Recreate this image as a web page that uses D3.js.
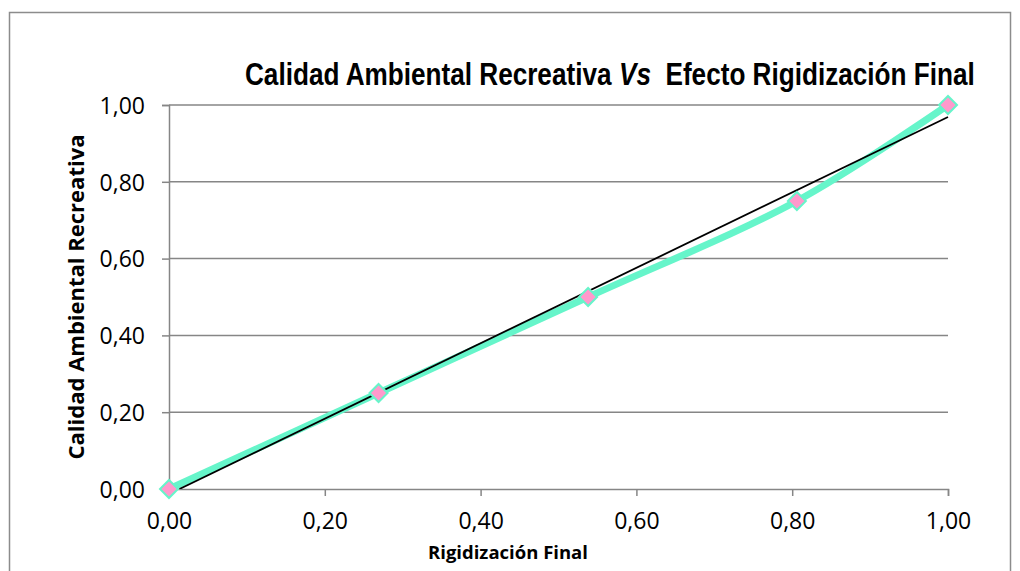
<!DOCTYPE html>
<html><head><meta charset="utf-8">
<script src="https://cdn.jsdelivr.net/npm/d3@7"></script>
<style>body{margin:0;background:#fff;} svg{display:block;}</style>
</head><body>
<script>
const titleParts = ["Calidad Ambiental Recreativa", "Vs", "Efecto Rigidización Final"];
const titleItalic = [false, true, false];
const xTitle = "Rigidización Final";
const yTitle = "Calidad Ambiental Recreativa";
const xValues = [0, 0.269, 0.538, 0.806, 1.0];
const yValues = [0, 0.25, 0.50, 0.75, 1.0];
const tickValues = [0, 0.2, 0.4, 0.6, 0.8, 1.0];

const W = 1020, H = 571;
const svg = d3.select("body").append("svg").attr("width", W).attr("height", H);
svg.append("rect").attr("x",9.5).attr("y",12.5).attr("width",1001).attr("height",600)
  .attr("fill","#fff").attr("stroke","#8c8c8c").attr("stroke-width",1.5);

const pL = 169, pR = 948, pT = 105, pB = 489;
const x = d3.scaleLinear().domain([0,1]).range([pL,pR]);
const y = d3.scaleLinear().domain([0,1]).range([pB,pT]);
const fmt = d => d3.format(".2f")(d).replace(".", ",");
const gray = "#868686";
const font = "'Open Sans', 'Noto Sans', sans-serif";

// gridlines
svg.append("g").selectAll("line").data(tickValues.filter(d=>d>0)).join("line")
  .attr("x1",pL).attr("x2",pR).attr("y1",d=>y(d)).attr("y2",d=>y(d))
  .attr("stroke",gray).attr("stroke-width",1.5);

// axes
const gx = svg.append("g").attr("transform",`translate(0,${pB})`)
  .call(d3.axisBottom(x).tickValues(tickValues).tickFormat(fmt).tickSize(7).tickPadding(15));
const gy = svg.append("g").attr("transform",`translate(${pL},0)`)
  .call(d3.axisLeft(y).tickValues(tickValues).tickFormat(fmt).tickSize(7).tickPadding(17));
[gx,gy].forEach(g=>{
  g.select(".domain").attr("stroke",gray).attr("stroke-width",1.5);
  g.selectAll(".tick line").attr("stroke",gray).attr("stroke-width",1.5);
  g.selectAll(".tick text").attr("font-family",font).attr("font-size",23).attr("fill","#000");
});
gx.selectAll(".tick text").attr("dy","0.8em");
gy.selectAll(".tick text").attr("dy","0.36em");

// clip
svg.append("clipPath").attr("id","clip").append("rect")
  .attr("x",pL).attr("y",pT-10).attr("width",pR-pL+10).attr("height",pB-pT+10);

const pts = xValues.map((v,i)=>[v,yValues[i]]);

// series line (smoothed)
svg.append("path").datum(pts)
  .attr("d", d3.line().x(d=>x(d[0])).y(d=>y(d[1])).curve(d3.curveCatmullRom.alpha(0.5)))
  .attr("fill","none").attr("stroke","#66F5CA").attr("stroke-width",7).attr("stroke-linecap","round");

// linear trendline
const mx = d3.mean(xValues), my = d3.mean(yValues);
const slope = d3.sum(xValues.map((v,i)=>(v-mx)*(yValues[i]-my))) / d3.sum(xValues.map(v=>(v-mx)*(v-mx)));
const intercept = my - slope*mx;
const xs0 = -intercept/slope;
svg.append("line").attr("clip-path","url(#clip)")
  .attr("x1",x(Math.max(0,xs0))).attr("y1",y(slope*Math.max(0,xs0)+intercept))
  .attr("x2",x(1)).attr("y2",y(slope+intercept))
  .attr("stroke","#000").attr("stroke-width",1.8);

// markers
svg.append("g").selectAll("path").data(pts).join("path")
  .attr("transform",d=>`translate(${x(d[0])},${y(d[1])})`)
  .attr("d","M0,-9L9,0L0,9L-9,0Z")
  .attr("fill","#FF99CC").attr("stroke","#66F5CA").attr("stroke-width",2);

// title: condensed by horizontal scaling of a group
const titleFont = "'Liberation Sans','Arial',sans-serif";
const fs = 31;
const gaps = [0.28*fs, 0.55*fs];
const tg = svg.append("g");
const pieces = tg.selectAll("text").data(titleParts).join("text")
  .attr("y",0).attr("font-family",titleFont).attr("font-weight","bold").attr("font-size",fs)
  .attr("font-style",(d,i)=>titleItalic[i]?"italic":"normal")
  .attr("fill","#000").text(d=>d);
let cx = 0;
pieces.each(function(d,i){
  d3.select(this).attr("x",cx);
  cx += this.getComputedTextLength() + (i<gaps.length ? gaps[i] : 0);
});
const sx = 730 / cx;
tg.attr("transform",`translate(245,85) scale(${sx},1)`);

// axis titles
svg.append("text").attr("x",508).attr("y",559).attr("text-anchor","middle")
  .attr("font-family",font).attr("font-weight","bold").attr("font-size",18.5).attr("fill","#000")
  .text(xTitle);
svg.append("text").attr("transform","translate(84,297) rotate(-90)").attr("text-anchor","middle")
  .attr("font-family",font).attr("font-weight","bold").attr("font-size",22).attr("fill","#000")
  .text(yTitle);
</script>
</body></html>
